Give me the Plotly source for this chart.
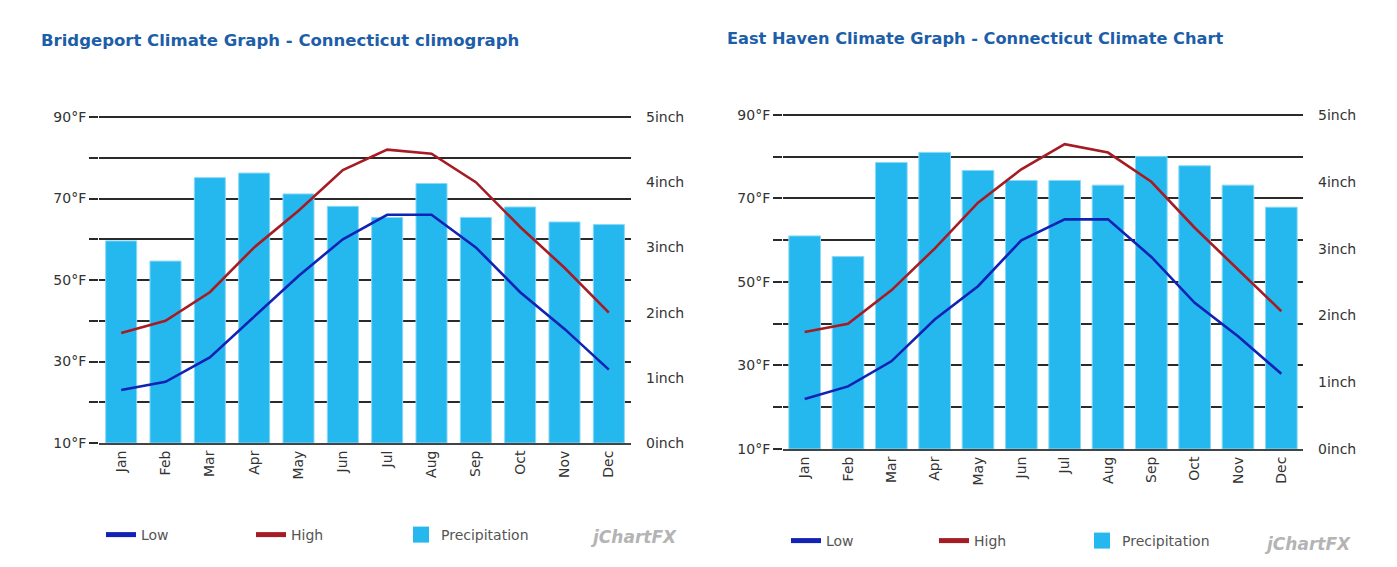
import plotly.graph_objects as go

months = ["Jan", "Feb", "Mar", "Apr", "May", "Jun", "Jul", "Aug", "Sep", "Oct", "Nov", "Dec"]

# Bridgeport
bp_low = [23, 25, 31, 41, 51, 60, 66, 66, 58, 47, 38, 28]
bp_high = [37, 40, 47, 58, 67, 77, 82, 81, 74, 63, 53, 42]
bp_precip = [3.10, 2.79, 4.07, 4.14, 3.82, 3.63, 3.46, 3.98, 3.46, 3.62, 3.39, 3.35]

# East Haven
eh_low = [22, 25, 31, 41, 49, 60, 65, 65, 56, 45, 37, 28]
eh_high = [38, 40, 48, 58, 69, 77, 83, 81, 74, 63, 53, 43]
eh_precip = [3.19, 2.88, 4.29, 4.44, 4.17, 4.02, 4.02, 3.95, 4.38, 4.24, 3.95, 3.62]

temp_ticks = [10, 20, 30, 40, 50, 60, 70, 80, 90]
temp_labels = ["10°F", "", "30°F", "", "50°F", "", "70°F", "", "90°F"]
precip_ticks = [0, 1, 2, 3, 4, 5]
precip_labels = ["0inch", "1inch", "2inch", "3inch", "4inch", "5inch"]

W, H = 1397, 567
BAR = "#25b8ee"
LOW = "#1122b5"
HIGH = "#a61c24"
TITLE = "#1d5ea8"
FONT = "DejaVu Sans"
PAD = 0.6  # °F of headroom above 90 so the top gridline is drawn

def px(x):
    return x / W

def py(y):
    return 1 - y / H

fig = go.Figure()

panels = [
    dict(low=bp_low, high=bp_high, precip=bp_precip, x="x", yp="y", yt="y2", legend="legend", width=0.70),
    dict(low=eh_low, high=eh_high, precip=eh_precip, x="x2", yp="y3", yt="y4", legend="legend2", width=0.73),
]

for p in panels:
    fig.add_trace(go.Bar(x=months, y=p["precip"], xaxis=p["x"], yaxis=p["yp"],
                         marker=dict(color=BAR, line=dict(color="#8ad8f6", width=1)),
                         width=p["width"], showlegend=False, name="Precipitation"))
    fig.add_trace(go.Scatter(x=months, y=p["low"], xaxis=p["x"], yaxis=p["yt"], mode="lines",
                             line=dict(color=LOW, width=2.6), name="Low", showlegend=False))
    fig.add_trace(go.Scatter(x=months, y=p["high"], xaxis=p["x"], yaxis=p["yt"], mode="lines",
                             line=dict(color=HIGH, width=2.6), name="High", showlegend=False))
    # legend-only entries (no data) so the legend keys can be drawn bolder
    fig.add_trace(go.Scatter(x=[None], y=[None], xaxis=p["x"], yaxis=p["yt"], mode="lines",
                             line=dict(color=LOW, width=5), name="Low", legend=p["legend"]))
    fig.add_trace(go.Scatter(x=[None], y=[None], xaxis=p["x"], yaxis=p["yt"], mode="lines",
                             line=dict(color=HIGH, width=5), name="High", legend=p["legend"]))
    fig.add_trace(go.Scatter(x=[None], y=[None], xaxis=p["x"], yaxis=p["yt"], mode="markers",
                             marker=dict(color=BAR, symbol="square", size=20),
                             name="Precipitation", legend=p["legend"]))

tickfont = dict(family=FONT, size=14, color="#333333")

def xaxis(domain, anchor):
    return dict(domain=domain, anchor=anchor, type="category", showline=True, linecolor="#444444",
                linewidth=2, ticks="", tickangle=-90, tickfont=dict(family=FONT, size=14, color="#333333"),
                showgrid=False, zeroline=False, fixedrange=True, automargin=False)

def yprecip(domain, anchor):
    return dict(domain=domain, anchor=anchor, side="right", range=[0, 5 + PAD / 16], tickvals=precip_ticks,
                ticktext=precip_labels, showgrid=False, zeroline=False, ticks="",
                ticklabelstandoff=14, tickfont=tickfont, fixedrange=True, automargin=False)

def ytemp(overlay, anchor):
    return dict(overlaying=overlay, anchor=anchor, side="left", range=[10, 90 + PAD], tickvals=temp_ticks,
                ticktext=temp_labels, showgrid=True, gridcolor="#2a2a2a", gridwidth=1.6,
                zeroline=False, ticks="outside", ticklen=9, tickcolor="#2a2a2a", tickwidth=1.6,
                tickfont=tickfont, fixedrange=True, automargin=False)

def dom(y_bot, y_top):
    top_px = y_top - PAD * (y_bot - y_top) / 80.0
    return [py(y_bot), py(top_px)]

fig.update_layout(
    width=W, height=H,
    margin=dict(l=0, r=0, t=0, b=0, autoexpand=False),
    paper_bgcolor="white", plot_bgcolor="white",
    xaxis=xaxis([px(99), px(631)], "y"),
    yaxis=yprecip(dom(443, 117), "x"),
    yaxis2=ytemp("y", "x"),
    xaxis2=xaxis([px(783), px(1303)], "y3"),
    yaxis3=yprecip(dom(449, 115), "x2"),
    yaxis4=ytemp("y3", "x2"),
    legend=dict(orientation="h", x=px(101), y=py(535), xanchor="left", yanchor="middle",
                entrywidth=105, entrywidthmode="pixels", font=dict(family=FONT, size=14, color="#555555"),
                bgcolor="rgba(0,0,0,0)", borderwidth=0),
    legend2=dict(orientation="h", x=px(786), y=py(541), xanchor="left", yanchor="middle",
                 entrywidth=103, entrywidthmode="pixels", font=dict(family=FONT, size=14, color="#555555"),
                 bgcolor="rgba(0,0,0,0)", borderwidth=0),
    bargap=0.3,
    showlegend=True,
)

fig.add_annotation(text="<b>Bridgeport Climate Graph - Connecticut climograph</b>", xref="paper", yref="paper",
                   x=px(39), y=py(40), xanchor="left", yanchor="middle", showarrow=False,
                   font=dict(family=FONT, size=16.5, color=TITLE))
fig.add_annotation(text="<b>East Haven Climate Graph - Connecticut Climate Chart</b>", xref="paper", yref="paper",
                   x=px(725), y=py(38), xanchor="left", yanchor="middle", showarrow=False,
                   font=dict(family=FONT, size=16.2, color=TITLE))
for xl, yl in [(588, 537), (1262, 544)]:
    fig.add_annotation(text="<b><i>jChartFX</i></b>", xref="paper", yref="paper",
                       x=px(xl), y=py(yl), xanchor="left", yanchor="middle", showarrow=False,
                       font=dict(family=FONT, size=17, color="#b4b4b4"))

fig.write_html("out.html", config={"displayModeBar": False})
